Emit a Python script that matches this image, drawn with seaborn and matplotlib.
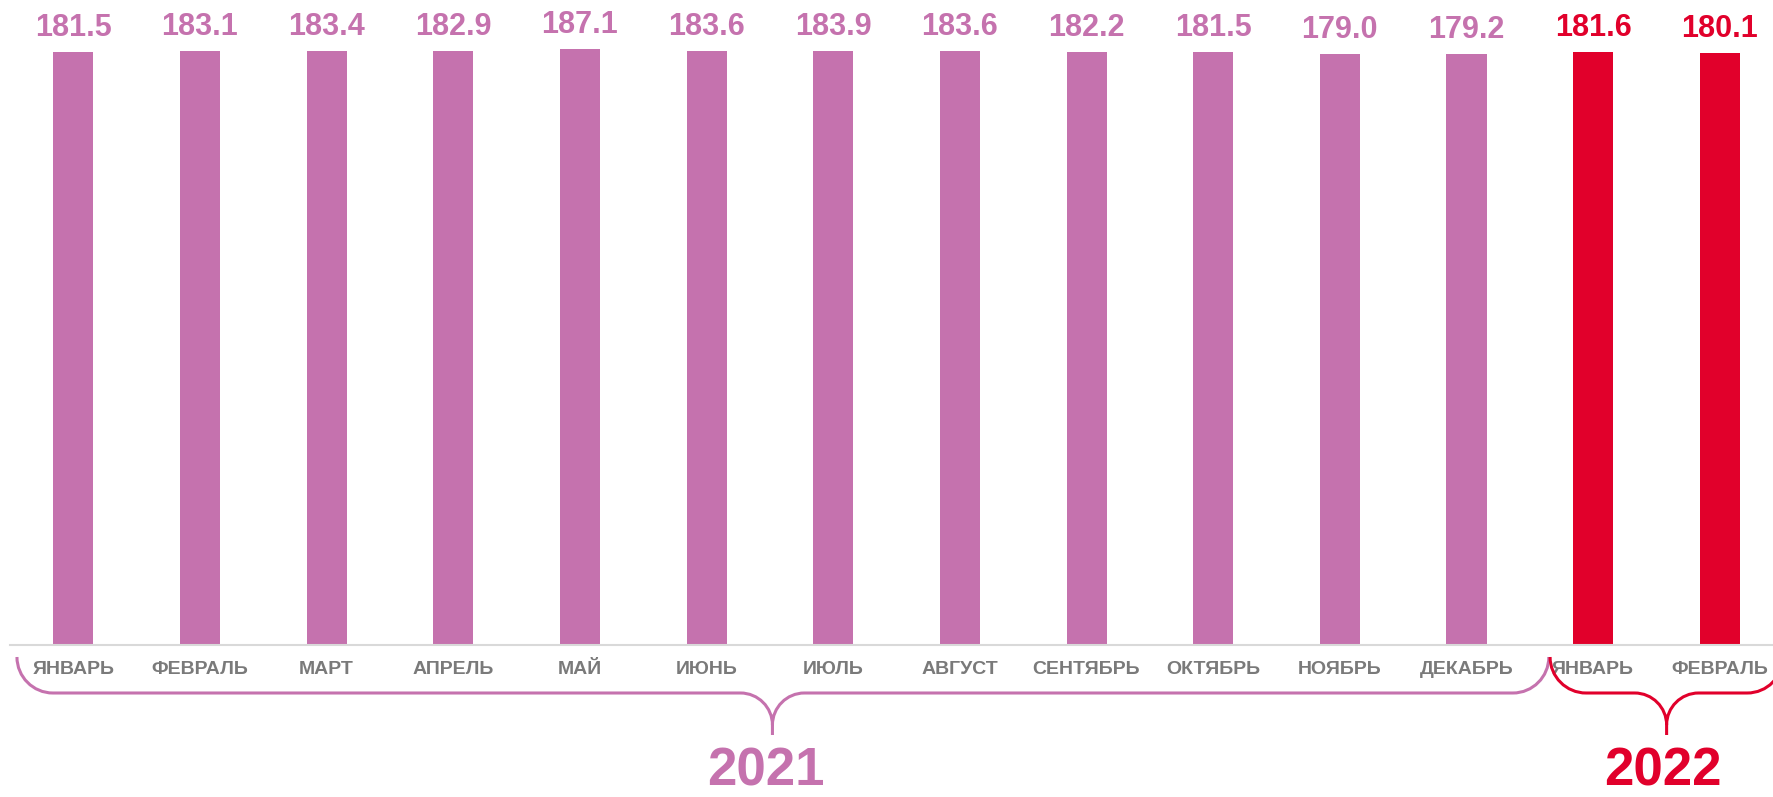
import numpy as np
import pandas as pd
import matplotlib.pyplot as plt
from matplotlib.path import Path
from matplotlib.patches import PathPatch
import seaborn as sns

# Datos
MESES = ['ЯНВАРЬ', 'ФЕВРАЛЬ', 'МАРТ', 'АПРЕЛЬ', 'МАЙ', 'ИЮНЬ', 'ИЮЛЬ', 'АВГУСТ',
         'СЕНТЯБРЬ', 'ОКТЯБРЬ', 'НОЯБРЬ', 'ДЕКАБРЬ']
meses_2021 = MESES
meses_2022 = MESES[:2]
valores_2021 = [181.5, 183.1, 183.4, 182.9, 187.1, 183.6, 183.9, 183.6, 182.2, 181.5, 179.0, 179.2]
valores_2022 = [181.6, 180.1]
anios = ['2021', '2022']

COLORES = {'2021': '#C572AE', '2022': '#E1002B'}
GRIS = '#7A7A7A'

filas = []
for anio, meses, valores in zip(anios, [meses_2021, meses_2022], [valores_2021, valores_2022]):
	for i, (mes, valor) in enumerate(zip(meses, valores)):
		filas.append({'periodo': '{}-{:02d}'.format(anio, i + 1), 'mes': mes, 'valor': valor, 'anio': anio})
df = pd.DataFrame(filas)

sns.set_theme(style='white')
plt.rcParams['font.family'] = ['Liberation Sans', 'DejaVu Sans']

W, H = 1773, 797
fig = plt.figure(figsize=(W / 100, H / 100), dpi=100)
ax = fig.add_axes([10 / W, 152 / H, 1 - 10 / W, 645 / H])

sns.barplot(data=df, x='periodo', y='valor', hue='anio', palette=COLORES, dodge=False,
            width=0.316, saturation=1, legend=False, linewidth=0, ax=ax)

# Escala logaritmica, como en el original
ax.set_yscale('log')
ax.set_ylim(1, 287)
ax.set_xlim(-0.5, 13.42)

# Etiquetas de valores
for i, fila in df.iterrows():
	ax.annotate('{:.1f}'.format(fila['valor']), (i, fila['valor']),
	            xytext=(0, 11.5), textcoords='offset points',
	            ha='center', va='baseline', fontsize=22, fontweight='bold',
	            color=COLORES[fila['anio']])

# Ejes
ax.set_xticks(range(len(df)))
ax.set_xticklabels(df['mes'])
ax.tick_params(axis='x', length=0, pad=11.5, labelsize=14, labelcolor=GRIS)
for t in ax.get_xticklabels():
	t.set_fontweight('bold')
ax.tick_params(axis='y', which='both', left=False, labelleft=False)
ax.set_xlabel('')
ax.set_ylabel('')
sns.despine(ax=ax, left=True)
ax.spines['bottom'].set_color('#D9D9D9')
ax.spines['bottom'].set_linewidth(1.5)


def x_pulgadas(x):
	return ax.transData.transform((x, 1))[0] / fig.dpi


def llave(x0, x1, xp, color, texto, dx_texto=0.0):
	# llave horizontal en pulgadas de la figura
	xl, xr, xt = x_pulgadas(x0), x_pulgadas(x1), x_pulgadas(xp)
	yt, yh, yb = 1.40, 1.04, 0.62
	r, r2, k = 0.36, 0.32, 0.5523
	verts = [
		(xl, yt), (xl, yt - k * r), (xl + r - k * r, yh), (xl + r, yh),
		(xt - r2, yh),
		(xt - r2 + k * r2, yh), (xt, yh - r2 + k * r2), (xt, yh - r2),
		(xt, yb),
		(xt, yh - r2),
		(xt, yh - r2 + k * r2), (xt + r2 - k * r2, yh), (xt + r2, yh),
		(xr - r, yh),
		(xr - r + k * r, yh), (xr, yt - k * r), (xr, yt),
	]
	codes = [Path.MOVETO, Path.CURVE4, Path.CURVE4, Path.CURVE4,
	         Path.LINETO,
	         Path.CURVE4, Path.CURVE4, Path.CURVE4,
	         Path.LINETO,
	         Path.MOVETO,
	         Path.CURVE4, Path.CURVE4, Path.CURVE4,
	         Path.LINETO,
	         Path.CURVE4, Path.CURVE4, Path.CURVE4]
	fig.add_artist(PathPatch(Path(verts, codes), transform=fig.dpi_scale_trans,
	                         facecolor='none', edgecolor=color, linewidth=2.2))
	fig.text(xt + dx_texto, 0.11, texto, transform=fig.dpi_scale_trans, ha='center', va='baseline',
	         fontsize=38, fontweight='bold', color=color)


llave(-0.445, 11.65, 5.52, COLORES['2021'], anios[0], dx_texto=-0.07)
llave(11.66, 13.5, 12.58, COLORES['2022'], anios[1], dx_texto=-0.04)

fig.savefig('out.png', dpi=100)
